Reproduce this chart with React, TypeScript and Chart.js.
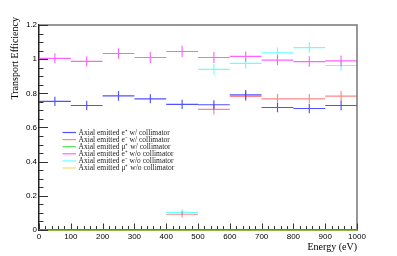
import React, { useEffect, useRef } from "react";
import { Chart, registerables } from "chart.js";

Chart.register(...registerables);

// Bin definition (Energy, eV)
const binEdges = [0, 100, 200, 300, 400, 500, 600, 700, 800, 900, 1000];
const binCenters = [50, 150, 250, 350, 450, 550, 650, 750, 850, 950];

// Series values (Transport Efficiency) and errors
const ePlusWith = [0.753, 0.729, 0.785, 0.768, 0.735, 0.733, 0.791, 0.717, 0.711, 0.729];
const ePlusWithErr = [0.027, 0.027, 0.028, 0.026, 0.027, 0.027, 0.028, 0.027, 0.027, 0.028];

const eMinusWith = [null, null, null, null, 0.092, 0.706, 0.782, 0.768, 0.768, 0.784];
const eMinusWithErr = [0, 0, 0, 0, 0.018, 0.03, 0.028, 0.028, 0.028, 0.03];

const muPlusWith = [0, 0, 0, 0, 0, 0, 0, 0, 0, 0];
const muPlusWithErr = [0, 0, 0, 0, 0, 0, 0, 0, 0, 0];

const ePlusWithout = [1.005, 0.987, 1.033, 1.01, 1.045, 1.01, 1.016, 0.994, 0.986, 0.99];
const ePlusWithoutErr = [0.029, 0.03, 0.031, 0.033, 0.033, 0.032, 0.029, 0.029, 0.031, 0.031];

const eMinusWithout = [null, null, null, null, 0.103, 0.94, 0.975, 1.037, 1.068, 0.963];
const eMinusWithoutErr = [0, 0, 0, 0, 0.018, 0.031, 0.031, 0.031, 0.031, 0.031];

const muPlusWithout = [0, 0, 0, 0, 0, 0, 0, 0, 0, 0];
const muPlusWithoutErr = [0, 0, 0, 0, 0, 0, 0, 0, 0, 0];

const seriesLabels = [
  "Axial emitted e\u207A w/ collimator",
  "Axial emitted e\u207B w/ collimator",
  "Axial emitted \u03BC\u207A w/ collimator",
  "Axial emitted e\u207A w/o collimator",
  "Axial emitted e\u207B w/o collimator",
  "Axial emitted \u03BC\u207A w/o collimator",
];
const seriesColors = [
  "rgba(50,50,255,0.85)",
  "rgba(255,70,70,0.65)",
  "rgba(50,220,50,0.85)",
  "rgba(255,60,255,0.8)",
  "rgba(70,255,255,0.8)",
  "rgba(240,200,0,0.6)",
];
// drawing order (lower = on top)
const seriesOrder = [1, 2, 3, 1, 2, 0];

const xTickValues = [0, 100, 200, 300, 400, 500, 600, 700, 800, 900, 1000];
const xTickLabels = ["0", "100", "200", "300", "400", "500", "600", "700", "800", "900", "1000"];
const yTickValues = [0, 0.2, 0.4, 0.6, 0.8, 1.0, 1.2];
const yTickLabels = ["0", "0.2", "0.4", "0.6", "0.8", "1", "1.2"];

const xTitle = "Energy (eV)";
const yTitle = "Transport Efficiency";

function histPoints(values: (number | null)[], errs: number[]) {
  const pts: { x: number; y: number | null }[] = [];
  values.forEach((v, i) => {
    if (v === null || v === undefined) return;
    const lo = binEdges[i];
    const hi = binEdges[i + 1];
    const c = binCenters[i];
    const e = errs[i];
    pts.push({ x: lo, y: v }, { x: hi, y: v }, { x: hi, y: null });
    if (e > 0) {
      pts.push({ x: c, y: v - e }, { x: c, y: v + e }, { x: c, y: null });
    }
  });
  return pts;
}

const seriesValues = [ePlusWith, eMinusWith, muPlusWith, ePlusWithout, eMinusWithout, muPlusWithout];
const seriesErrs = [ePlusWithErr, eMinusWithErr, muPlusWithErr, ePlusWithoutErr, eMinusWithoutErr, muPlusWithoutErr];

const rootPlugin = {
  id: "rootStyle",
  afterDatasetsDraw(chart: any) {
    const { ctx, chartArea } = chart;
    const xs = chart.scales.x;
    const ys = chart.scales.y;
    ctx.save();
    // frame top and right
    ctx.strokeStyle = "#777";
    ctx.lineWidth = 1.5;
    ctx.beginPath();
    ctx.moveTo(chartArea.left, chartArea.top);
    ctx.lineTo(chartArea.right, chartArea.top);
    ctx.lineTo(chartArea.right, chartArea.bottom);
    ctx.stroke();
    // y ticks (inside)
    ctx.strokeStyle = "#333";
    ctx.lineWidth = 1;
    for (let k = 0; k <= 24; k++) {
      const v = k * 0.05;
      const py = Math.round(ys.getPixelForValue(v)) + 0.5;
      const len = k % 4 === 0 ? 9 : 4.5;
      ctx.beginPath();
      ctx.moveTo(chartArea.left, py);
      ctx.lineTo(chartArea.left + len, py);
      ctx.stroke();
    }
    // x ticks (inside)
    for (let k = 0; k <= 50; k++) {
      const v = k * 20;
      const px = Math.round(xs.getPixelForValue(v)) + 0.5;
      const len = k % 5 === 0 ? 5.5 : 3;
      ctx.beginPath();
      ctx.moveTo(px, chartArea.bottom - 1);
      ctx.lineTo(px, chartArea.bottom - 1 - len);
      ctx.stroke();
    }
    // legend
    const lx = chartArea.left + 23.5;
    const ly = chartArea.top + 107.5;
    ctx.font = '7.5px "Liberation Serif"';
    ctx.textAlign = "left";
    ctx.textBaseline = "middle";
    seriesLabels.forEach((label, i) => {
      const y = ly + i * 7.1;
      ctx.strokeStyle = seriesColors[i];
      ctx.lineWidth = 1.2;
      ctx.beginPath();
      ctx.moveTo(lx, y);
      ctx.lineTo(lx + 13.5, y);
      ctx.stroke();
      ctx.fillStyle = "#222";
      ctx.fillText(label, lx + 16, y + 0.5);
    });
    // y axis title
    ctx.save();
    ctx.translate(15.5, chartArea.top - 8);
    ctx.rotate(-Math.PI / 2);
    ctx.font = '10px "Liberation Serif"';
    ctx.textAlign = "right";
    ctx.textBaseline = "middle";
    ctx.fillStyle = "#000";
    ctx.fillText(yTitle, 0, 0);
    ctx.restore();
    ctx.restore();
  },
};

export default function App() {
  const ref = useRef<HTMLCanvasElement | null>(null);
  useEffect(() => {
    if (!ref.current) return;
    const datasets = seriesValues.map((vals, i) => ({
      label: seriesLabels[i],
      data: histPoints(vals as (number | null)[], seriesErrs[i]),
      order: seriesOrder[i],
      showLine: true,
      borderColor: seriesColors[i],
      backgroundColor: seriesColors[i],
      borderWidth: 1.15,
      pointRadius: 0,
      pointHoverRadius: 0,
      spanGaps: false,
      tension: 0,
      clip: 6,
    }));
    const chart = new Chart(ref.current, {
      type: "scatter",
      data: { datasets },
      options: {
        animation: false,
        responsive: false,
        layout: { padding: { left: 0, top: 25, right: 40, bottom: 0 } },
        plugins: { legend: { display: false }, tooltip: { enabled: false } },
        scales: {
          x: {
            type: "linear",
            min: 0,
            max: 1000,
            afterBuildTicks: (s: any) => {
              s.ticks = xTickValues.map((v) => ({ value: v }));
            },
            afterFit: (s: any) => {
              s.height = 26;
            },
            ticks: {
              callback: (_v: any, i: number) => xTickLabels[i],
              font: { family: "Liberation Sans", size: 8 },
              color: "#000",
              padding: 2,
              maxRotation: 0,
              autoSkip: false,
            },
            grid: { display: false, drawTicks: false },
            border: { display: true, color: "#222", width: 1.5 },
            title: {
              display: true,
              text: xTitle,
              align: "end",
              color: "#000",
              font: { family: "Liberation Serif", size: 10 },
              padding: { top: 0, bottom: 2.5 },
            },
          },
          y: {
            type: "linear",
            min: 0,
            max: 1.2,
            afterBuildTicks: (s: any) => {
              s.ticks = yTickValues.map((v) => ({ value: v }));
            },
            afterFit: (s: any) => {
              s.width = 39;
            },
            ticks: {
              callback: (_v: any, i: number) => yTickLabels[i],
              font: { family: "Liberation Sans", size: 8 },
              color: "#000",
              padding: 2,
              autoSkip: false,
            },
            grid: { display: false, drawTicks: false },
            border: { display: true, color: "#222", width: 1.5 },
            title: { display: false },
          },
        },
      },
      plugins: [rootPlugin],
    } as any);
    return () => chart.destroy();
  }, []);
  return (
    <div style={{ position: "absolute", left: 0, top: 0, width: 397, height: 256, background: "#fff" }}>
      <canvas ref={ref} width={397} height={256} style={{ width: 397, height: 256 }} />
    </div>
  );
}
